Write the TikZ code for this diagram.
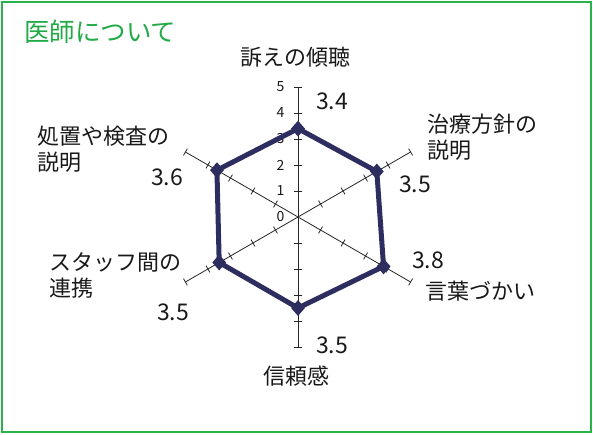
\documentclass[tikz,border=0pt]{standalone}
\usepackage{fontspec}
\setmainfont{Noto Sans CJK JP}
\usetikzlibrary{shapes.geometric}

\definecolor{frameGreen}{RGB}{40,180,75}
\definecolor{titleGreen}{RGB}{34,170,70}
\definecolor{seriesNavy}{RGB}{45,45,95}

\begin{document}
\begin{tikzpicture}[x=1pt,y=-1pt]
    % Define styles
    \tikzstyle{frame} = [draw=frameGreen, line width=2pt]
    \tikzstyle{heading} = [anchor=north west, inner sep=0pt, text=titleGreen, font=\fontsize{25.5}{28}\selectfont]
    \tikzstyle{axis label} = [anchor=north west, inner sep=0pt, align=left, text=black!90, font=\fontsize{22}{26}\selectfont]
    \tikzstyle{value} = [anchor=base west, inner sep=0pt, text=black!90, font=\fontsize{23}{26}\selectfont]
    \tikzstyle{scale label} = [inner sep=0pt, text=black!90, font=\fontsize{14}{15}\selectfont]
    \tikzstyle{spoke} = [line width=0.8pt, black!85]
    \tikzstyle{point} = [diamond, fill=seriesNavy, inner sep=0pt, minimum width=14pt, minimum height=16pt]
    \tikzstyle{series} = [line width=5pt, draw=seriesNavy, line join=round]

    \useasboundingbox (0,0) rectangle (593,434);
    \draw[frame] (2,2) rectangle (591,432);

    % Title
    \node (title) [heading] at (24,20) {医師について};

    % Chart
    \begin{scope}[shift={(298,217)}, x=26pt, y=26pt]
        \foreach \a in {90,30,-30}
            \draw[spoke] (\a:5) -- (\a+180:5);
        \foreach \a in {90,30,-30,-90,-150,150}
            \foreach \r in {1,...,5}
                \draw[spoke, rotate=\a] (\r,-0.15) -- (\r,0.15);
        \foreach \r in {0,...,5}
            \node (s\r) [scale label] at (-0.67,\r) {\r};

        % Data points
        \node (p1) [point] at (90:3.4) {};
        \node (p2) [point] at (30:3.5) {};
        \node (p3) [point] at (-30:3.8) {};
        \node (p4) [point] at (-90:3.5) {};
        \node (p5) [point] at (-150:3.5) {};
        \node (p6) [point] at (150:3.6) {};
        \draw[series] (p1.center) -- (p2.center) -- (p3.center) -- (p4.center) -- (p5.center) -- (p6.center) -- cycle;
    \end{scope}

    % Axis labels
    \node (listen) [axis label] at (240,47) {訴えの傾聴};
    \node (policy) [axis label] at (427,114) {治療方針の\\説明};
    \node (words) [axis label] at (425,281) {言葉づかい};
    \node (trust) [axis label] at (263,366) {信頼感};
    \node (staff) [axis label] at (49,252) {スタッフ間の\\連携};
    \node (exam) [axis label] at (37,126) {処置や検査の\\説明};

    % Values
    \node (v1) [value] at (316,109) {3.4};
    \node (v2) [value] at (399,192) {3.5};
    \node (v3) [value] at (412,268) {3.8};
    \node (v4) [value] at (316,353) {3.5};
    \node (v5) [value] at (157,320) {3.5};
    \node (v6) [value] at (151,185) {3.6};
\end{tikzpicture}
\end{document}
